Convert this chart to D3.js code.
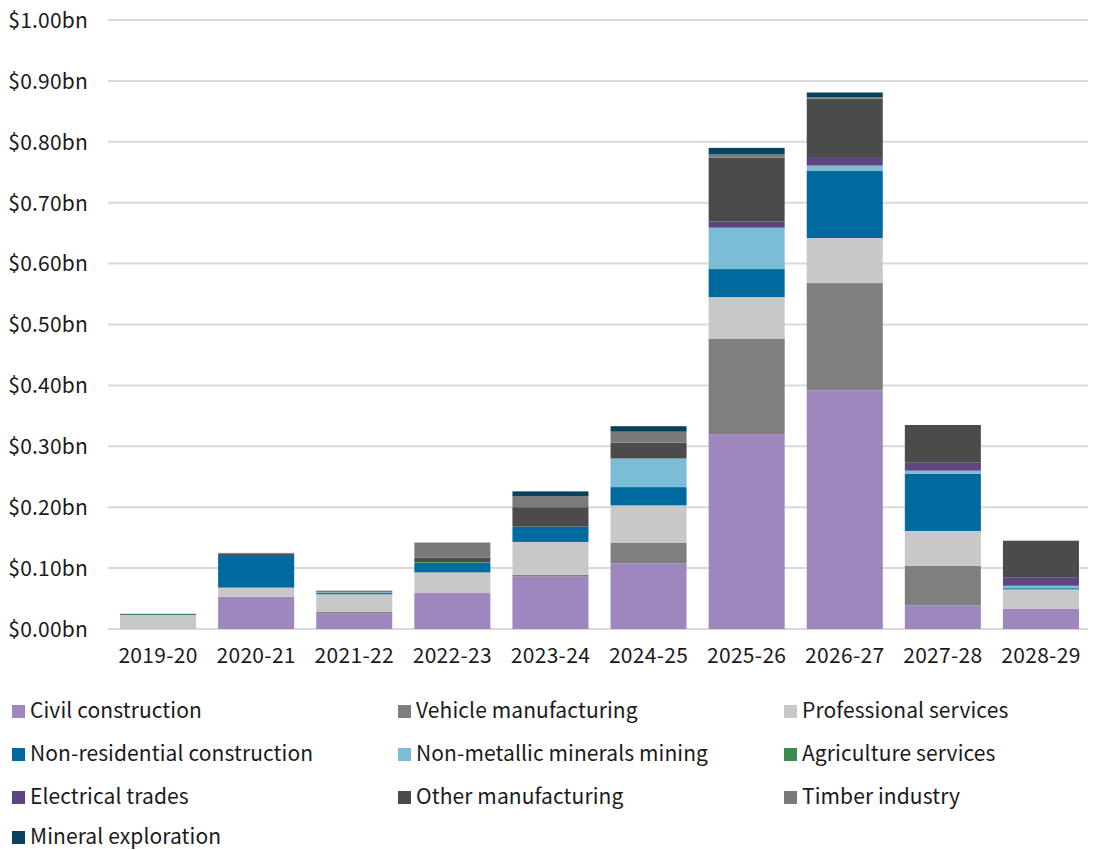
<!DOCTYPE html>
<html><head><meta charset="utf-8">
<script src="https://cdn.jsdelivr.net/npm/d3@7"></script>
<style>
body{margin:0;background:#fff;}
text{font-family:"Noto Sans CJK JP","Noto Sans",sans-serif;fill:#1a1a1a;}
</style></head>
<body><svg id="c" width="1093" height="850"></svg>
<script>
const years = ["2019-20","2020-21","2021-22","2022-23","2023-24","2024-25","2025-26","2026-27","2027-28","2028-29"];
const seriesNames = ["Civil construction","Vehicle manufacturing","Professional services","Non-residential construction","Non-metallic minerals mining","Agriculture services","Electrical trades","Other manufacturing","Timber industry","Mineral exploration"];
const seriesColors = ["#9e86be","#7f7f7f","#c8c8c8","#006a9e","#7bbcd6","#3c8a4f","#5c4580","#4b4b4b","#7a7a7a","#08435e"];
// values in $bn per year
const civil        = [0,     0.053, 0.026, 0.059, 0.086, 0.108, 0.320, 0.392, 0.039, 0.033];
const vehicle      = [0,     0,     0.002, 0,     0.003, 0.034, 0.157, 0.176, 0.065, 0];
const professional = [0.023, 0.015, 0.029, 0.034, 0.054, 0.061, 0.068, 0.074, 0.057, 0.032];
const nonres       = [0,     0.052, 0.002, 0.016, 0.025, 0.030, 0.046, 0.110, 0.094, 0.002];
const nonmetallic  = [0,     0,     0.001, 0,     0,     0.047, 0.068, 0.009, 0.005, 0.004];
const agriculture  = [0.002, 0,     0,     0.001, 0,     0,     0,     0,     0,     0];
const electrical   = [0,     0,     0,     0,     0,     0,     0.010, 0.014, 0.013, 0.014];
const otherMfg     = [0,     0.004, 0,     0.007, 0.032, 0.026, 0.105, 0.096, 0.062, 0.060];
const timber       = [0,     0.001, 0.003, 0.025, 0.018, 0.018, 0.006, 0.002, 0,     0];
const mineral      = [0,     0,     0,     0,     0.008, 0.009, 0.010, 0.008, 0,     0];
const yTicks = [0,0.1,0.2,0.3,0.4,0.5,0.6,0.7,0.8,0.9,1.0];

const seriesValues = [civil,vehicle,professional,nonres,nonmetallic,agriculture,electrical,otherMfg,timber,mineral];
const rows = years.map((y,i)=>{const r={year:y}; seriesNames.forEach((s,j)=>r[s]=seriesValues[j][i]); return r;});
const stack = d3.stack().keys(seriesNames)(rows);

const svg = d3.select("#c");
const x = d3.scaleBand().domain(years).range([109,1090]).paddingInner(0.225).paddingOuter(0.1125);
const y = d3.scaleLinear().domain([0,1]).range([629,20]);
const FONT = "'Noto Sans CJK JP','Noto Sans',sans-serif";

// gridlines
svg.append("g").selectAll("line").data(yTicks).join("line")
  .attr("x1",108).attr("x2",1088)
  .attr("y1",d=>y(d)).attr("y2",d=>y(d))
  .attr("stroke","#d9d9d9").attr("stroke-width",2);

// y labels
const yAxis = svg.append("g").attr("transform","translate(96,0)")
  .call(d3.axisLeft(y).tickValues(yTicks).tickSize(0).tickFormat(d=>"$"+d.toFixed(2)+"bn"));
yAxis.select(".domain").remove();
yAxis.selectAll("text").attr("x",-8).style("font-size","21px").style("letter-spacing","0.2px").attr("dy","0.35em")
  .style("font-family",FONT).attr("fill","#1a1a1a");

// bars
svg.append("g").selectAll("g").data(stack).join("g")
  .attr("fill",(d,i)=>seriesColors[i])
  .selectAll("rect").data(d=>d).join("rect")
  .attr("x",d=>x(d.data.year)).attr("width",x.bandwidth())
  .attr("y",d=>y(d[1])).attr("height",d=>Math.max(0,y(d[0])-y(d[1])));

// x labels
const xAxis = svg.append("g").attr("transform","translate(0,629)")
  .call(d3.axisBottom(x).tickSize(0));
xAxis.select(".domain").remove();
xAxis.selectAll("text").attr("y",19).attr("dy","0.71em").style("font-size","21px").style("letter-spacing","0.3px")
  .style("font-family",FONT).attr("fill","#1a1a1a");

// legend
const leg = svg.append("g");
seriesNames.forEach((s,i)=>{
  const col=i%3, row=Math.floor(i/3);
  const gx = 12 + col*386, gy = 711 + row*43 - (row===3?3:0);
  leg.append("rect").attr("x",gx).attr("y",gy-6).attr("width",13).attr("height",13).attr("fill",seriesColors[i]);
  leg.append("text").attr("x",gx+18).attr("y",gy).attr("dy","0.35em").style("font-size","21px").style("letter-spacing","0.1px").text(s);
});
</script></body></html>
